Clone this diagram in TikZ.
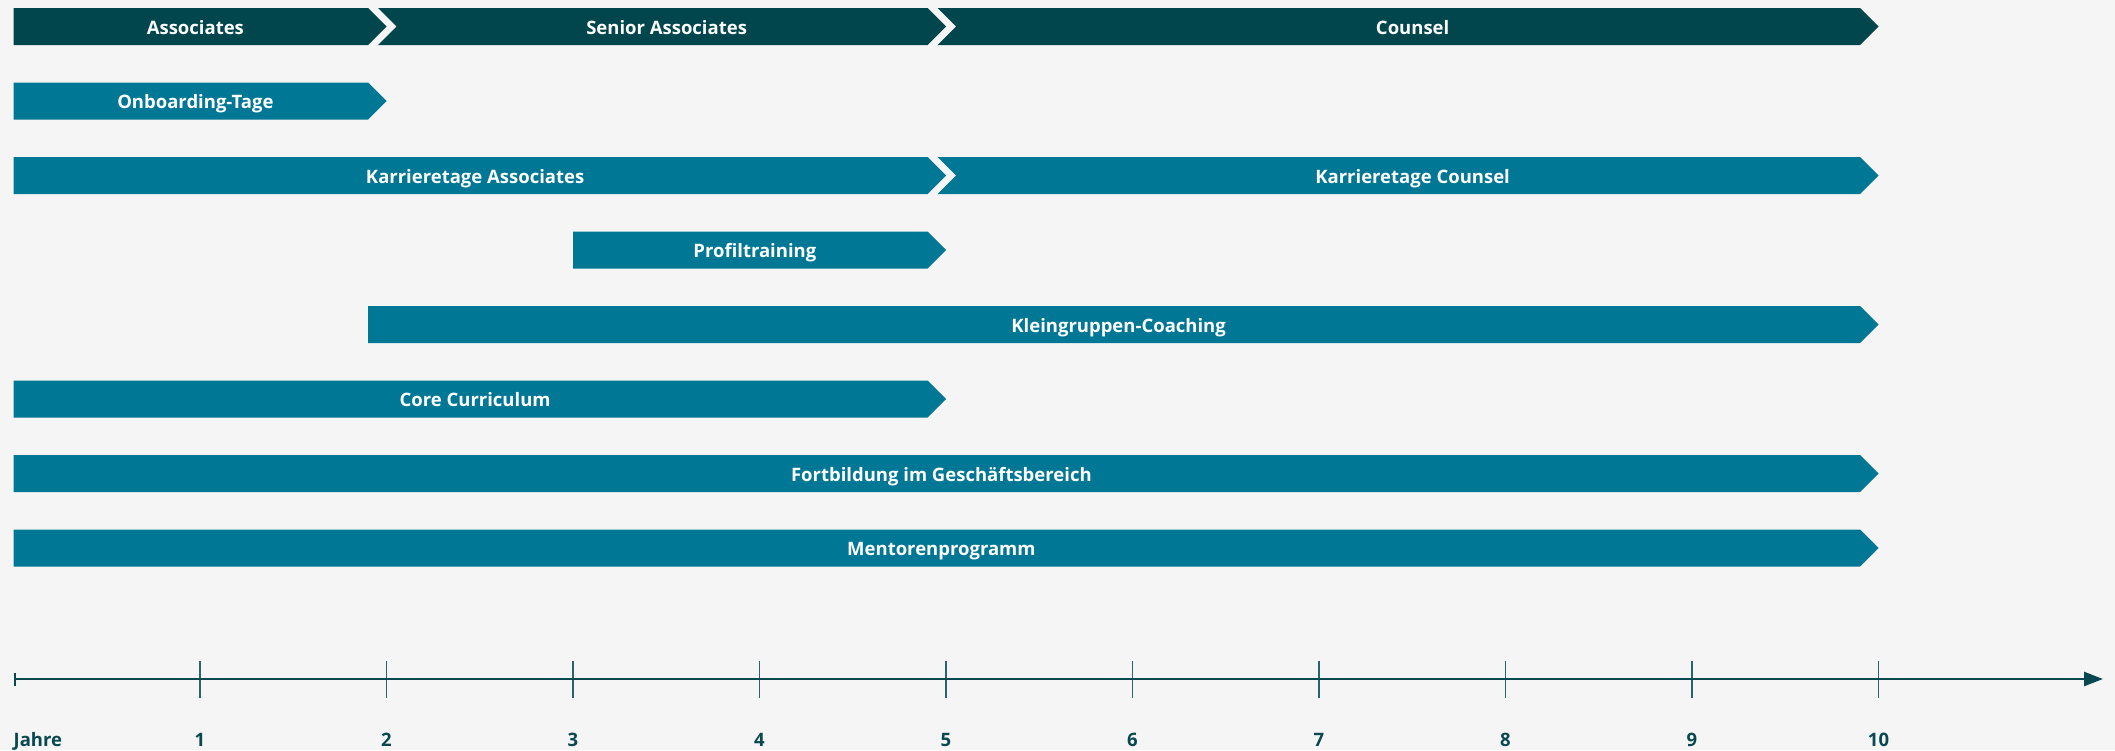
\documentclass[tikz,border=0pt]{standalone}
\usepackage{fontspec}
\setmainfont{Open Sans}
\usetikzlibrary{arrows.meta}
\definecolor{bgc}{RGB}{245,245,245}
\definecolor{darkbar}{RGB}{1,70,77}
\definecolor{tealbar}{RGB}{0,119,148}
\definecolor{axisc}{RGB}{8,72,80}
\definecolor{tickc}{RGB}{40,100,108}
\tikzset{
  bartext/.style={anchor=base, text=white, font=\fontsize{18.5}{22}\selectfont\bfseries, inner sep=0pt},
  axistext/.style={anchor=base, text=axisc, font=\fontsize{18.5}{22}\selectfont\bfseries, inner sep=0pt},
  tickline/.style={draw=tickc, line width=1.1pt},
  axisline/.style={draw=axisc, line width=2.6pt, {Bar[width=13pt,line width=2.5pt]}-{Triangle[length=19pt,width=14pt]}}
}
% #1 name, #2 left x, #3 notch depth, #4 tip x, #5 y centre, #6 colour, #7 text
\newcommand\tlbar[7]{%
  \fill[#6] (#2,#5-18.5) -- (#4-18.5,#5-18.5) -- (#4,#5) -- (#4-18.5,#5+18.5) -- (#2,#5+18.5) -- (#2+#3,#5) -- cycle;
  \node[bartext] (#1) at ({(#2+#3+#4-9.25)/2},#5+7.5) {#7};
}
\begin{document}
\begin{tikzpicture}[x=1pt,y=-1pt]
\fill[bgc] (0,0) rectangle (2115,750);
\useasboundingbox (0,0) rectangle (2115,750);
% row 1: career stages
\tlbar{assoc}{13.5}{0}{386.5}{26.5}{darkbar}{Associates}
\tlbar{senior}{378}{18.5}{946}{26.5}{darkbar}{Senior Associates}
\tlbar{counsel}{937.5}{18.5}{1878.5}{26.5}{darkbar}{Counsel}
% programmes
\tlbar{onb}{13.5}{0}{386.5}{101}{tealbar}{Onboarding-Tage}
\tlbar{kta}{13.5}{0}{946}{175.5}{tealbar}{Karrieretage Associates}
\tlbar{ktc}{937.5}{18.5}{1878.5}{175.5}{tealbar}{Karrieretage Counsel}
\tlbar{prof}{573}{0}{946}{250}{tealbar}{Profiltraining}
\tlbar{klein}{368}{0}{1878.5}{324.5}{tealbar}{Kleingruppen-Coaching}
\tlbar{core}{13.5}{0}{946}{399}{tealbar}{Core Curriculum}
\tlbar{fort}{13.5}{0}{1878.5}{473.5}{tealbar}{Fortbildung im Geschäftsbereich}
\tlbar{ment}{13.5}{0}{1878.5}{548}{tealbar}{Mentorenprogramm}
% axis
\coordinate (ax0) at (13.5,679);
\coordinate (ax1) at (2103,679);
\foreach \k in {1,...,10}{
  \coordinate (t\k a) at (13.5+186.5*\k,661);
  \coordinate (t\k b) at (13.5+186.5*\k,698);
  \draw[tickline] (t\k a) -- (t\k b);
  \node[axistext] (lab\k) at (13.5+186.5*\k,746) {\k};
}
\draw[axisline] (ax0) -- (ax1);
\node[axistext, anchor=base west] (jahre) at (13.5,746) {Jahre};
\end{tikzpicture}
\end{document}
